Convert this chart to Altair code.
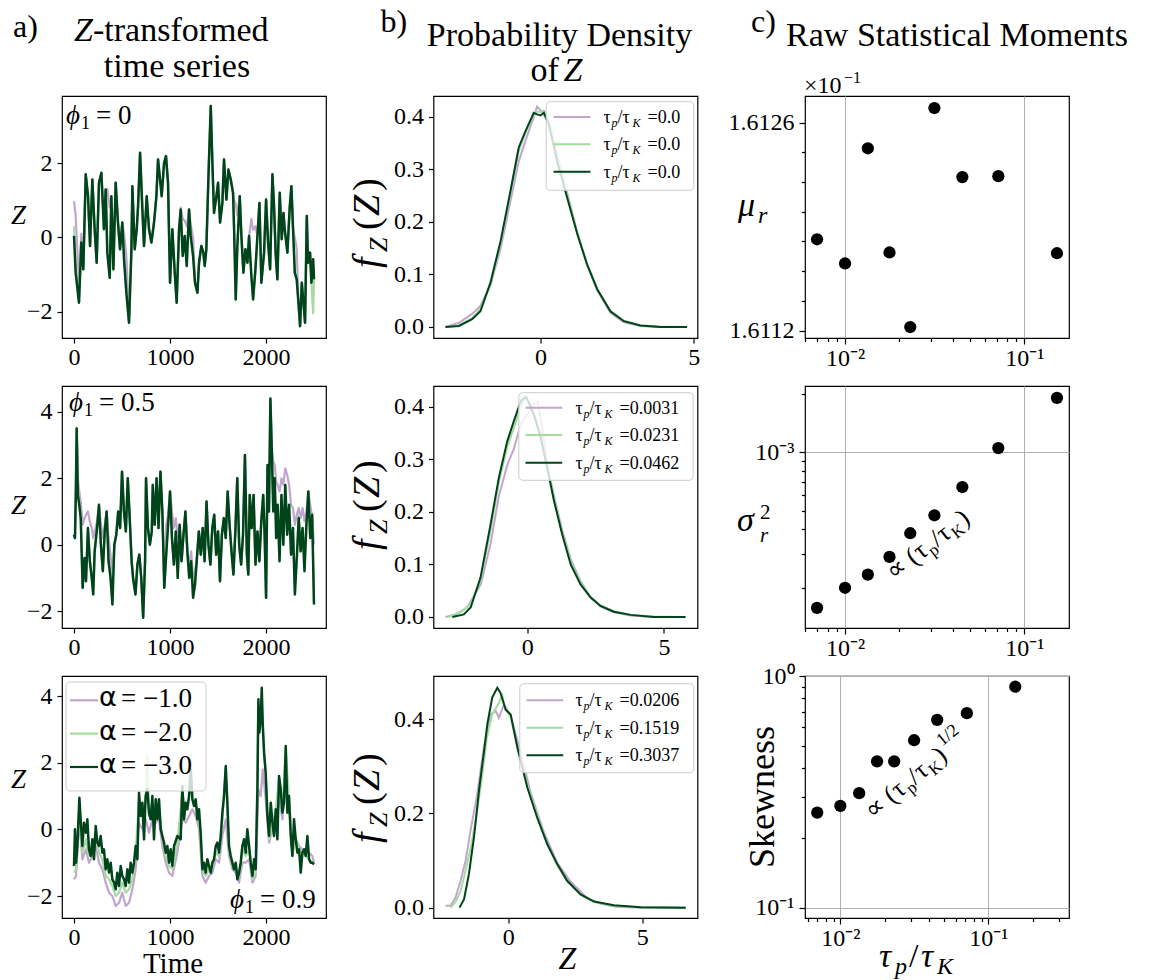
import math
import altair as alt
import pandas as pd

SERIF = "Liberation Serif"
SANS = "DejaVu Sans"
PURPLE, LGREEN, DGREEN = "#c2a5cf", "#a6dba0", "#00441b"
W, H = 264, 242

# ---------------- a) Z-transformed time series ----------------
T1 = [0,17,52,76,97,122,146,167,191,215,
      236,260,285,312,330,347,372,389,410,434,
      458,479,503,521,545,573,597,608,632,653,
      667,688,712,729,757,781,806,833,858,875,
      896,913,938,958,979,1000,1024,1049,1069,1094,
      1111,1132,1153,1174,1198,1215,1240,1260,1285,1302,
      1326,1347,1361,1378,1399,1424,1441,1458,1483,1500,
      1521,1545,1562,1587,1608,1632,1656,1667,1684,1701,
      1726,1743,1764,1785,1806,1823,1847,1865,1889,1910,
      1931,1951,1979,2000,2021,2042,2066,2083,2101,2118,
      2142,2163,2181,2194,2222,2247,2264,2281,2299,2319,
      2337,2354,2372,2389,2406,2424,2437,2458,2472,2490,
      2499]
A1_M3 = [0.04,-0.95,-1.76,-0.14,-0.86,1.70,1.11,-0.23,1.56,0.22,
         -0.68,1.47,1.74,0.22,1.29,-0.41,-1.09,1.11,-0.86,1.47,
         0.40,-0.32,0.40,-0.59,-1.49,-2.30,-0.41,1.38,-0.32,0.22,
         0.84,2.28,0.75,-0.23,1.11,0.22,-0.14,0.40,1.11,2.10,
         1.56,1.11,2.01,2.19,1.47,-1.22,0.22,-0.95,-1.76,0.22,
         0.75,-0.50,0.04,-0.77,0.75,0.04,-0.50,-1.22,-1.49,-0.68,
         -0.23,-0.41,-0.77,-0.32,1.56,3.54,2.01,0.66,1.11,1.47,
         0.40,0.93,2.10,1.02,1.83,1.56,1.20,0.22,-1.67,-0.23,
         1.11,0.04,-0.95,-0.32,-0.68,0.04,-1.04,-1.67,-0.86,0.04,
         0.93,-1.22,-0.41,1.02,-0.14,-0.86,1.70,0.84,-0.50,-1.13,
         1.20,-0.05,0.66,0.22,-0.41,0.84,1.38,0.22,-0.95,-1.13,
         -1.76,-2.39,-1.22,-1.76,-2.30,0.58,-0.68,-0.41,-1.22,-0.59,
         -1.13]
A1_M2 = [0.30,-0.70,-1.76,-0.14,-0.86,1.70,1.11,-0.23,1.56,0.22,
         -0.68,1.47,1.74,0.22,1.29,-0.41,-1.09,1.11,-0.86,1.47,
         0.40,-0.32,0.40,-0.59,-1.49,-2.30,-0.41,1.38,-0.32,0.22,
         0.84,2.28,0.75,-0.23,1.11,0.22,-0.14,0.40,1.11,2.10,
         1.56,1.11,2.01,2.19,1.47,-1.22,0.22,-0.95,-1.76,0.22,
         0.75,-0.50,0.04,-0.77,0.75,0.04,-0.50,-1.22,-1.49,-0.68,
         -0.23,-0.41,-0.77,-0.32,1.56,3.54,2.01,0.66,1.11,1.47,
         0.40,0.93,2.10,1.02,1.83,1.56,1.20,0.22,-1.67,-0.23,
         1.11,0.04,-0.95,-0.32,-0.68,0.04,-1.04,-1.67,-0.86,0.04,
         0.93,-1.22,-0.41,1.02,-0.14,-0.86,1.70,0.84,-0.50,-1.13,
         1.20,-0.05,0.66,0.22,-0.41,0.84,1.38,0.22,-0.95,-1.13,
         -1.76,-2.39,-1.22,-1.76,-2.30,0.58,-0.68,-0.41,-1.22,-2.05,
         -1.13]
A1_M1 = [0.98,0.60,-1.20,0.10,-0.86,1.70,1.11,-0.23,1.56,0.22,
         -0.68,1.47,1.74,0.22,1.29,1.30,0.80,1.11,-0.86,1.47,
         0.40,-0.32,0.40,0.10,-0.50,-2.10,-0.41,1.38,-0.32,0.22,
         0.84,2.28,0.75,-0.23,1.11,0.22,-0.14,0.40,1.11,2.10,
         1.56,1.11,2.01,2.19,1.47,-1.22,0.22,-0.95,-1.76,0.22,
         0.80,0.50,0.45,0.30,0.75,0.35,0.00,-1.22,-1.49,-0.68,
         -0.23,-0.41,-0.77,-0.32,1.56,3.54,2.01,0.66,1.11,1.47,
         0.40,0.93,2.10,1.02,1.83,1.56,1.20,1.00,0.90,0.60,
         1.11,0.04,-0.95,-0.32,-0.68,0.04,0.50,0.20,0.30,0.04,
         0.93,-1.22,-0.41,1.02,-0.14,-0.86,1.70,0.84,-0.50,-1.13,
         1.20,-0.05,0.66,0.22,-0.41,0.84,1.38,0.22,0.00,-0.30,
         -1.76,-2.39,-1.22,-1.76,-2.30,0.58,-0.68,-0.41,-1.22,-0.59,
         -1.13]

T2 = [0,10,20,28,40,55,70,90,110,125,
      145,165,185,200,215,240,260,280,300,320,
      340,360,380,400,420,440,460,480,500,520,
      540,560,580,600,615,640,660,680,700,720,
      740,750,770,790,810,820,840,860,880,900,
      920,940,960,980,1000,1020,1040,1060,1080,1100,
      1120,1140,1160,1180,1200,1220,1240,1260,1280,1300,
      1320,1340,1360,1380,1400,1420,1440,1460,1480,1500,
      1520,1540,1560,1580,1600,1620,1640,1660,1680,1700,
      1720,1740,1760,1780,1800,1815,1830,1850,1870,1890,
      1910,1930,1950,1970,1985,2000,2015,2030,2045,2060,
      2075,2090,2105,2120,2140,2160,2180,2200,2220,2240,
      2260,2280,2300,2320,2340,2360,2380,2400,2420,2440,
      2460,2480,2499]
A2_M3 = [0.3,0.2,1.7,3.5,1.5,1.2,0.8,-1.3,-0.4,-1.1,
         0.5,-0.5,-1.0,-1.5,-0.2,0.5,1.2,0.0,-0.8,0.4,
         1.0,-0.5,-1.0,-1.8,0.0,0.3,1.0,0.5,2.2,1.0,
         0.4,2.0,0.8,-0.5,-1.0,-1.5,-0.6,-0.3,-1.0,-2.2,
         -0.5,2.0,0.5,0.0,0.4,1.8,0.6,2.0,0.5,2.2,
         1.0,-1.3,-0.3,0.6,1.6,0.2,-0.6,0.4,-1.0,0.6,
         -0.5,0.3,1.0,-0.2,-1.0,-0.5,-1.6,-1.2,-0.4,0.4,
         -0.3,0.5,-0.5,1.3,0.0,-0.6,0.5,0.9,-0.3,0.4,
         -1.1,0.3,0.8,0.2,1.6,0.6,-0.2,-0.9,0.4,2.0,
         0.0,-0.6,0.3,2.7,-0.3,-0.9,1.5,0.5,1.5,-0.6,
         0.4,-0.5,0.7,1.5,0.3,-1.6,2.4,1.0,4.4,2.8,
         1.0,2.0,0.2,1.2,-0.5,1.5,0.0,1.8,0.3,1.2,
         -0.3,0.5,-1.5,-0.4,0.8,-0.2,0.5,-0.8,0.6,1.6,
         0.2,0.9,-1.8]
A2_M2 = [0.3,0.2,1.7,3.5,1.5,1.2,0.8,-1.3,-0.4,-1.1,
         0.5,-0.5,-1.0,-1.5,-0.2,0.5,1.2,0.0,-0.8,0.4,
         1.0,-0.5,-0.8,-1.4,0.0,0.3,1.0,0.5,2.2,1.0,
         0.4,2.0,0.8,-0.5,-1.0,-1.5,-0.6,-0.3,-1.0,-2.2,
         -0.5,2.0,0.5,0.0,0.4,1.8,0.6,2.0,0.5,2.2,
         1.0,-1.3,-0.3,0.6,1.6,0.2,-0.6,0.4,-1.0,0.6,
         -0.5,0.3,1.0,-0.2,-1.0,-0.5,-1.3,-1.2,-0.4,0.4,
         -0.3,0.5,-0.5,1.3,0.0,-0.6,0.5,0.9,-0.3,0.4,
         -1.1,0.3,0.8,0.2,1.6,0.6,-0.2,-0.9,0.4,2.0,
         0.0,-0.6,0.3,2.7,-0.3,-0.9,1.5,0.5,1.5,-0.6,
         0.4,-0.5,0.7,1.5,0.3,-1.6,2.4,1.0,4.4,2.8,
         1.3,2.0,0.6,1.2,-0.2,1.5,0.3,1.8,0.6,1.2,
         0.1,0.5,-1.2,-0.4,0.9,-0.2,0.5,-0.6,0.6,1.6,
         0.2,0.9,-1.8]
A2_M1 = [0.3,0.2,1.7,3.5,2.0,1.6,1.3,0.6,0.8,0.9,
         1.0,0.7,0.5,0.2,0.4,0.7,1.2,0.6,0.2,0.6,
         1.0,0.2,-0.3,-0.9,0.0,0.3,1.0,0.5,2.2,1.0,
         0.4,2.0,0.8,-0.5,-1.0,-1.5,-0.6,-0.3,-1.0,-2.2,
         -0.5,2.0,0.5,0.0,0.4,1.8,0.6,2.0,0.5,2.2,
         1.0,-1.3,0.6,0.9,1.6,1.0,0.5,0.8,0.2,0.6,
         -0.5,0.3,1.0,-0.2,-0.6,-0.2,-1.0,-0.8,-0.4,0.4,
         -0.3,0.5,-0.5,1.3,0.0,-0.6,0.5,0.9,-0.3,0.4,
         -1.1,0.3,0.8,0.2,1.6,0.6,-0.2,-0.9,0.4,2.0,
         0.0,-0.6,0.3,2.7,-0.3,-0.9,1.5,0.5,1.5,-0.6,
         0.4,-0.5,0.7,1.5,0.3,-1.6,2.4,1.0,4.3,2.9,
         2.5,2.4,1.9,1.8,1.6,2.0,1.8,2.3,2.1,1.8,
         1.2,1.1,0.6,0.9,1.1,0.8,1.1,0.7,1.0,1.6,
         1.2,0.8,0.0]

T3 = [0,10,21,35,56,69,87,104,125,139,
      156,174,191,208,226,243,260,278,295,312,
      330,347,365,382,399,417,434,451,469,486,
      503,521,538,556,573,590,608,625,642,660,
      677,694,712,729,746,764,781,799,816,833,
      851,868,885,903,920,937,955,972,990,1007,
      1024,1042,1076,1111,1128,1146,1163,1180,1198,1215,
      1233,1250,1267,1285,1302,1319,1337,1354,1371,1389,
      1406,1424,1441,1458,1476,1493,1510,1528,1545,1562,
      1580,1597,1614,1632,1649,1667,1684,1701,1719,1736,
      1753,1771,1788,1805,1823,1840,1858,1875,1892,1910,
      1920,1930,1944,1955,1965,1979,1996,2014,2031,2049,
      2066,2083,2101,2118,2135,2153,2170,2187,2205,2222,
      2239,2257,2274,2291,2309,2326,2344,2361,2378,2396,
      2413,2430,2448,2465,2482,2499]
A3_M3 = [-1.1,0.0,-1.0,-0.5,0.95,0.3,-0.5,0.2,-0.1,0.3,
         -0.6,-0.8,-0.3,-0.9,0.1,-0.4,-0.5,-0.2,-0.7,-0.6,
         -1.2,-0.9,-1.3,-1.0,-1.5,-1.6,-1.8,-1.3,-1.7,-1.1,
         -1.4,-1.5,-1.7,-1.2,-1.6,-1.0,-1.3,-1.0,-0.5,-0.9,
         1.1,0.4,0.8,-0.3,1.0,1.2,0.5,0.3,1.0,-0.3,
         0.9,0.3,0.9,0.0,-0.2,-0.4,-0.7,-0.5,-1.0,-0.6,
         -1.1,-0.5,-0.2,-0.3,1.3,0.3,0.8,0.6,1.0,1.8,
         0.9,0.7,0.9,0.3,0.6,-0.1,-1.2,-1.0,-1.3,-0.9,
         -1.1,-1.3,-1.0,-0.9,-0.5,-0.4,-0.7,-0.2,0.5,1.0,
         1.9,0.8,-0.5,-0.8,-1.0,-1.2,-1.0,-1.5,-1.3,-1.0,
         -0.5,-0.3,-0.7,0.0,-0.5,-1.0,-1.4,-0.9,-1.2,1.2,
         3.9,2.9,3.3,4.25,3.2,2.3,1.7,0.4,-0.2,0.8,
         0.2,-0.2,0.6,-0.3,1.6,1.2,0.5,0.8,2.5,0.5,
         1.0,-0.2,-0.8,0.3,-0.3,-0.7,-0.6,-1.3,-0.7,-0.6,
         -0.8,-0.2,-0.9,-1.0,-1.0,-1.05]
T3L = [0,21,56,87,125,156,191,226,260,295,
       330,365,399,434,469,503,538,573,608,642,
       677,712,746,764,781,816,851,885,920,955,
       990,1024,1076,1128,1163,1198,1215,1233,1267,1302,
       1337,1371,1406,1441,1476,1510,1545,1580,1614,1649,
       1684,1719,1753,1788,1823,1858,1892,1920,1944,1955,
       1965,1996,2031,2066,2101,2135,2170,2205,2239,2274,
       2309,2344,2378,2413,2448,2482,2499]
A3_M2 = [-1.3,-1.2,0.7,-0.7,-0.3,-0.8,-0.5,-0.1,-0.7,-0.9,
         -1.4,-1.5,-1.7,-2.0,-1.9,-1.6,-1.9,-1.8,-1.5,-0.7,
         0.9,0.6,0.8,2.25,0.4,0.8,0.7,0.7,-0.3,-0.8,
         -1.1,-1.2,-0.4,1.1,0.6,0.9,2.2,0.9,0.8,0.4,
         -1.2,-1.4,-1.2,-1.1,-0.7,-0.8,0.3,1.8,-0.6,-1.1,
         -1.1,-1.4,-0.6,-0.8,-0.6,-1.5,-1.3,3.7,3.1,4.0,
         3.0,1.6,-0.3,0.1,0.6,1.5,0.5,2.4,0.9,-0.8,
         -0.3,-0.6,-0.7,-0.8,-0.9,-1.0,-1.05]
T3P = [0,21,56,87,125,156,191,226,260,295,
       330,365,399,434,469,503,538,573,608,642,
       677,712,746,781,816,851,885,920,955,990,
       1024,1076,1128,1163,1198,1233,1267,1302,1337,1371,
       1406,1441,1476,1510,1545,1580,1614,1649,1684,1719,
       1753,1788,1823,1858,1892,1920,1944,1965,1996,2031,
       2066,2101,2135,2170,2205,2239,2274,2309,2344,2378,
       2413,2448,2482,2499]
A3_M1 = [-1.5,-1.4,0.3,-0.9,-0.6,-1.0,-0.8,-0.5,-1.0,-1.2,
         -1.6,-1.9,-2.0,-2.3,-2.2,-1.9,-2.3,-2.2,-1.8,-1.2,
         0.2,0.0,0.3,-0.1,0.3,0.2,0.3,-0.5,-1.0,-1.3,
         -1.4,-0.7,0.3,0.2,0.4,0.6,0.4,0.0,-1.4,-1.6,
         -1.4,-1.3,-0.9,-1.0,-0.2,0.3,-0.8,-1.2,-1.3,-1.6,
         -1.0,-1.0,-0.9,-1.6,-1.4,1.2,1.0,1.8,0.9,-0.4,
         0.0,0.3,1.0,0.3,1.6,0.7,-0.6,-0.3,-0.5,-0.6,
         -0.6,-0.7,-0.8,-1.0]

# ---------------- b) probability densities ----------------
B1_Z = [-3.1,-2.66,-2.23,-1.96,-1.63,-1.3,-0.98,-0.71,-0.49,-0.22,-0.11,0.0,0.11,0.27,0.54,0.87,1.2,1.52,1.85,2.28,2.72,3.26,3.91,4.78]
B1_G = [0,0.002,0.015,0.03,0.085,0.164,0.259,0.342,0.373,0.408,0.405,0.403,0.408,0.386,0.316,0.246,0.177,0.119,0.072,0.030,0.011,0.003,0.0,0.0]
B1_L = [0,0.003,0.017,0.035,0.08,0.16,0.255,0.335,0.37,0.405,0.41,0.41,0.412,0.395,0.325,0.25,0.178,0.12,0.072,0.03,0.012,0.003,0.001,0.0]
B1_P = [0,0.008,0.025,0.04,0.08,0.15,0.24,0.315,0.355,0.40,0.42,0.412,0.405,0.39,0.33,0.255,0.18,0.118,0.07,0.027,0.009,0.002,0.0,0.0]

B2_GZ = [-2.74,-2.32,-2.07,-1.71,-1.34,-1.04,-0.73,-0.49,-0.24,-0.05,0.0,0.24,0.49,0.73,0.98,1.28,1.59,1.95,2.32,2.68,3.17,3.78,4.63,5.79]
B2_G = [0,0.005,0.018,0.075,0.177,0.265,0.335,0.373,0.411,0.419,0.415,0.386,0.342,0.284,0.221,0.157,0.100,0.062,0.037,0.021,0.010,0.004,0.0,0.0]
B2_LZ = [-2.87,-2.4,-2.07,-1.71,-1.34,-1.04,-0.73,-0.49,-0.24,-0.1,0.05,0.24,0.49,0.73,0.98,1.28,1.59,1.95,2.32,2.68,3.17,3.78,4.63,5.79]
B2_L = [0,0.01,0.025,0.07,0.165,0.255,0.325,0.36,0.40,0.42,0.41,0.39,0.35,0.29,0.225,0.16,0.105,0.065,0.038,0.022,0.011,0.004,0.001,0.0]
B2_PZ = [-2.99,-2.6,-2.2,-1.7,-1.34,-1.04,-0.73,-0.49,-0.24,0.05,0.2,0.37,0.55,0.73,0.98,1.28,1.59,1.95,2.32,2.68,3.17,3.78,4.63,5.79]
B2_P = [0,0.005,0.018,0.062,0.14,0.23,0.29,0.32,0.367,0.39,0.405,0.41,0.36,0.29,0.23,0.165,0.11,0.068,0.038,0.02,0.009,0.003,0.0,0.0]

B3_GZ = [-1.82,-1.65,-1.47,-1.28,-1.09,-0.91,-0.78,-0.6,-0.41,-0.29,-0.1,0.09,0.34,0.71,1.08,1.46,1.83,2.2,2.7,3.2,3.94,4.94,6.62]
B3_G = [0,0.018,0.071,0.149,0.25,0.33,0.39,0.446,0.467,0.456,0.421,0.41,0.34,0.255,0.191,0.134,0.092,0.057,0.028,0.013,0.005,0.001,0.0]
B3_LZ = [-2.15,-1.97,-1.78,-1.59,-1.4,-1.2,-1.0,-0.8,-0.6,-0.4,-0.22,-0.1,0.09,0.34,0.71,1.08,1.46,1.83,2.2,2.7,3.2,3.94,4.94,6.62]
B3_L = [0,0.012,0.035,0.08,0.127,0.19,0.27,0.36,0.41,0.43,0.45,0.42,0.405,0.34,0.26,0.195,0.135,0.09,0.056,0.027,0.012,0.004,0.001,0.0]
B3_PZ = [-2.34,-2.15,-1.97,-1.78,-1.59,-1.41,-1.16,-0.91,-0.66,-0.47,-0.35,-0.16,0.09,0.46,0.83,1.33,1.83,2.33,2.95,3.45,4.0,5.0,6.62]
B3_P = [0.004,0.004,0.021,0.057,0.10,0.163,0.24,0.34,0.41,0.418,0.403,0.432,0.407,0.33,0.245,0.16,0.095,0.055,0.02,0.008,0.002,0.0,0.0]

LEG_B = [["=0.0", "=0.0", "=0.0"],
         ["=0.0031", "=0.0231", "=0.0462"],
         ["=0.0206", "=0.1519", "=0.3037"]]

# ---------------- c) raw statistical moments ----------------
TAU = [0.00698, 0.0100, 0.0134, 0.0177, 0.0231, 0.0315, 0.0451, 0.0716, 0.152]
MU = [1.611815, 1.611652, 1.612428, 1.611726, 1.611224, 1.612699, 1.612234, 1.612240, 1.611721]
VAR = [1.576e-4, 2.0e-4, 2.339e-4, 2.886e-4, 3.824e-4, 4.734e-4, 6.624e-4, 1.052e-3, 1.911e-3]
SKEW = [0.2573, 0.2751, 0.312, 0.428, 0.428, 0.528, 0.6465, 0.691, 0.899]

ONE = pd.DataFrame({"k": [0]})


def T(s, x, y, size, italic=False, angle=0, align="left", baseline="alphabetic", font=SERIF):
    return alt.Chart(ONE).mark_text(
        text=s, font=font, fontSize=size, fontStyle="italic" if italic else "normal",
        angle=angle, align=align, baseline=baseline, color="black"
    ).encode(x=alt.value(x), y=alt.value(y))


def rich(pieces, x0, y0, angle=0):
    """pieces: (text, offset along the text, offset below the baseline, size, italic)"""
    th = math.radians(angle)
    dx, dy = math.cos(th), math.sin(th)
    px, py = -math.sin(th), math.cos(th)
    out = []
    for p in pieces:
        s, a, q, size = p[:4]
        it = p[4] if len(p) > 4 else False
        font = p[5] if len(p) > 5 else SERIF
        out.append(T(s, round(x0 + a * dx + q * px, 2), round(y0 + a * dy + q * py, 2),
                     size, it, angle=angle, font=font))
    return out


def box(x1, x2, y1, y2):
    return alt.Chart(ONE).mark_rect(fill="white", fillOpacity=0.8, stroke="#cccccc",
                                    strokeWidth=1, cornerRadius=4).encode(
        x=alt.value(x1), x2=alt.value(x2), y=alt.value(y1), y2=alt.value(y2))


def hline(x1, x2, y, color, sw):
    return alt.Chart(ONE).mark_rule(color=color, strokeWidth=sw).encode(
        x=alt.value(x1), x2=alt.value(x2), y=alt.value(y))


def lin(dom):
    return alt.Scale(domain=dom, nice=False, zero=False)


def ts_panel(series, ydom, yvals, extras):
    xa = alt.Axis(values=[0, 1000, 2000], format="d", title=None)
    ya = alt.Axis(values=yvals, format="d", title=None)
    layers = []
    for tt, zz, col, sw in series:
        df = pd.DataFrame({"t": tt, "z": zz})
        layers.append(alt.Chart(df).mark_line(color=col, strokeWidth=sw, strokeJoin="round").encode(
            x=alt.X("t:Q", scale=lin([-125, 2624]), axis=xa),
            y=alt.Y("z:Q", scale=lin(ydom), axis=ya)))
    return alt.layer(*layers, *extras).properties(width=W, height=H)


def pdf_panel(series, xdom, ydom, yvals, extras):
    xa = alt.Axis(values=[0, 5], format="d", title=None)
    ya = alt.Axis(values=yvals, format=".1f", title=None)
    layers = []
    for zz, ff, col in series:
        df = pd.DataFrame({"zv": zz, "f": ff})
        layers.append(alt.Chart(df).mark_line(color=col, strokeWidth=2).encode(
            x=alt.X("zv:Q", scale=lin(xdom), axis=xa),
            y=alt.Y("f:Q", scale=lin(ydom), axis=ya)))
    return alt.layer(*layers, *extras).properties(width=W, height=H)


MAJ = "abs(log(datum.value)/LN10 - round(log(datum.value)/LN10)) < 0.001"


def cond(test, a, b):
    return {"condition": {"test": test, "value": a}, "value": b}


XT12 = [0.006, 0.007, 0.008, 0.009, 0.01, 0.02, 0.03, 0.04, 0.05, 0.06, 0.07, 0.08, 0.09, 0.1]
XT3 = XT12 + [0.2, 0.3]
XLAB = "datum.value == 0.01 ? '10⁻²' : datum.value == 0.1 ? '10⁻¹' : ''"


def xlog_axis(vals):
    return alt.Axis(values=vals, labelExpr=XLAB, title=None, grid=True,
                    gridOpacity=cond(MAJ, 1, 0), tickSize=cond(MAJ, 6, 3.5))


def mom_panel(yvals, xdom, xvals, yscale, yaxis, extras):
    df = pd.DataFrame({"tau": TAU, "m": yvals})
    pts = alt.Chart(df).mark_circle(size=150, color="black", opacity=1).encode(
        x=alt.X("tau:Q", scale=alt.Scale(type="log", domain=xdom, nice=False), axis=xlog_axis(xvals)),
        y=alt.Y("m:Q", scale=yscale, axis=yaxis))
    return alt.layer(pts, *extras).properties(width=W, height=H)


def leg_b(labels, bx1, bx2, by1, by2, lx1, lx2, ly, tx):
    out = [box(bx1, bx2, by1, by2)]
    for i, (lab, col) in enumerate(zip(labels, [PURPLE, LGREEN, DGREEN])):
        y = ly[i]
        out.append(hline(lx1, lx2, y, col, 2))
        out += rich([("τ", 0, 0, 18), ("p", 8, 4, 12, True), ("/τ", 14, 0, 18),
                     ("K", 29, 4, 12, True), (lab, 44, 0, 18)], tx, y + 6)
    return out


def fz_label(y0):
    return rich([("f", 0, 0, 38, True), ("Z", 16, 8, 26, True), ("(", 38, 0, 38),
                  ("Z", 52, 0, 38, True), (")", 77, 0, 38)], -55, y0, angle=270)


def phi(x, y, val):
    return rich([("ϕ", 0, 0, 27, True), ("1", 15, 5, 18), ("= " + val, 30, 0, 27)], x, y)


def propto(x0, y0, angle, half=False):
    p = [("∝", 0, 0, 26), ("(", 25, 0, 26), ("τ", 34, 0, 26), ("p", 46, 5, 17),
         ("/", 55, 0, 26), ("τ", 63, 0, 26), ("K", 75, 5, 17), (")", 89, 0, 26)]
    if half:
        p.append(("1/2", 100, -13, 18))
    return rich(p, x0, y0, angle)


# ---- column a panels
ghost = alt.Chart(ONE).mark_rule(opacity=0).encode(
    x=alt.value(-61), x2=alt.value(-60), y=alt.value(-95), y2=alt.value(-95))

a1_extra = [ghost] + phi(4, 28, "0") + [T("Z", -51, 128, 27, True),
            T("a)", -49, -59, 32), T("Z", 12, -55, 34, True), T("-transformed", 31, -55, 34),
            T("time series", 115, -19, 34, align="center")]
a1 = ts_panel([(T1, A1_M1, PURPLE, 2.2), (T1, A1_M2, LGREEN, 2.2), (T1, A1_M3, DGREEN, 2.5)],
              [-2.71, 3.81], [-2, 0, 2], a1_extra)

a2_extra = phi(7, 25, "0.5") + [T("Z", -51, 128, 27, True)]
a2 = ts_panel([(T2, A2_M1, PURPLE, 2.2), (T2, A2_M2, LGREEN, 2.2), (T2, A2_M3, DGREEN, 2.5)],
              [-2.51, 4.78], [-2, 0, 2, 4], a2_extra)

a3_extra = phi(168, 232, "0.9") + [T("Z", -51, 112, 27, True), T("Time", 111, 297, 29, align="center"),
                                   box(4, 144, 6, 115)]
for i, (lab, col) in enumerate(zip(["= −1.0", "= −2.0", "= −3.0"], [PURPLE, LGREEN, DGREEN])):
    yy = [24.3, 57.6, 91][i]
    a3_extra += [hline(8, 36, yy, col, 2.2), T("α", 37, yy + 6, 27, font=SANS), T(lab, 59, yy + 7, 27)]
a3 = ts_panel([(T3P, A3_M1, PURPLE, 2.2), (T3L, A3_M2, LGREEN, 2.2), (T3, A3_M3, DGREEN, 2.5)],
              [-2.66, 4.6], [-2, 0, 2, 4], a3_extra)

# ---- column b panels
b1_extra = fz_label(172) + [T("b)", -53, -64, 32), T("Probability Density", 126, -50, 34, align="center"),
                            T("of", 97, -15, 34), T("Z", 130, -15, 34, True)] + \
    leg_b(LEG_B[0], 112.7, 260.3, 5.7, 94.3, 120, 157, [21, 48.3, 75.7], 170)
b1 = pdf_panel([(B1_Z, B1_P, PURPLE), (B1_Z, B1_L, LGREEN), (B1_Z, B1_G, DGREEN)],
               [-3.49, 5.12], [-0.021, 0.44], [0.0, 0.1, 0.2, 0.3, 0.4], b1_extra)

b2_extra = fz_label(164) + leg_b(LEG_B[1], 85.3, 259.7, 6.7, 94.3, 92, 128.7, [21.7, 49, 76.7], 142)
b2 = pdf_panel([(B2_PZ, B2_P, PURPLE), (B2_LZ, B2_L, LGREEN), (B2_GZ, B2_G, DGREEN)],
               [-3.43, 6.23], [-0.021, 0.44], [0.0, 0.1, 0.2, 0.3, 0.4], b2_extra)

b3_extra = fz_label(167) + [T("Z", 134, 293, 32, True, align="center")] + \
    leg_b(LEG_B[2], 86.3, 260.3, 7.7, 96.7, 93, 129.7, [24.3, 51.7, 79.3], 142)
b3 = pdf_panel([(B3_PZ, B3_P, PURPLE), (B3_LZ, B3_L, LGREEN), (B3_GZ, B3_G, DGREEN)],
               [-2.79, 7.06], [-0.022, 0.492], [0.0, 0.2, 0.4], b3_extra)

# ---- column c panels
MU_T = [1.6112, 1.6114, 1.6116, 1.6118, 1.612, 1.6122, 1.6124, 1.6126]
MU_END = "datum.value == 1.6112 || datum.value == 1.6126"
mu_axis = alt.Axis(values=MU_T, title=None, grid=False, tickSize=cond(MU_END, 6, 3.5),
                   labelExpr="(" + MU_END + ") ? format(datum.value, '.4f') : ''")
c1_extra = [T("×10", -1, -3, 24), T("−1", 39, -13, 16), T("c)", -54, -64, 32),
            T("Raw Statistical Moments", 152, -50, 34, align="center"),
            T("μ", -67, 120, 34, True), T("r", -47, 127, 24, True)]
c1 = mom_panel(MU, [0.00598, 0.1774], XT12, lin([1.61115, 1.61278]), mu_axis, c1_extra)

VAR_T = [2e-4, 3e-4, 4e-4, 5e-4, 6e-4, 7e-4, 8e-4, 9e-4, 1e-3, 2e-3]
var_axis = alt.Axis(values=VAR_T, title=None, grid=True, gridOpacity=cond(MAJ, 1, 0),
                    tickSize=cond(MAJ, 6, 3.5), labelExpr="datum.value == 0.001 ? '10⁻³' : ''")
c2_extra = [T("σ", -68, 145, 34, True), T("2", -45, 133, 21), T("r", -45, 156, 21, True)] + \
    propto(89, 195, 322.5)
c2 = mom_panel(VAR, [0.00598, 0.1774], XT12,
               alt.Scale(type="log", domain=[1.24e-4, 2.2e-3], nice=False), var_axis, c2_extra)

SK_T = [0.1, 0.2, 0.3, 0.4, 0.5, 0.6, 0.7, 0.8, 0.9, 1.0]
sk_axis = alt.Axis(values=SK_T, title=None, grid=True, gridOpacity=cond(MAJ, 1, 0),
                   tickSize=cond(MAJ, 6, 3.5),
                   labelExpr="datum.value == 0.1 ? '10⁻¹' : datum.value == 1 ? '10⁰' : ''")
c3_extra = [T("Skewness", -31, 121, 36, angle=270, align="center")] + propto(68, 144, 320.7, half=True) + \
    rich([("τ", 0, 0, 34, True), ("p", 16, 7, 24, True), ("/", 30, 0, 34),
          ("τ", 42, 0, 34, True), ("K", 58, 7, 24, True)], 74, 291)
c3 = mom_panel(SKEW, [0.00577, 0.3507], XT3,
               alt.Scale(type="log", domain=[0.0902, 1.0], nice=False), sk_axis, c3_extra)

chart = alt.concat(
    a1, b1, c1, a2, b2, c2, a3, b3, c3,
    columns=3, spacing={"row": 48, "column": 107.5}, bounds="flush"
).resolve_scale(
    x="independent", y="independent"
).properties(
    padding={"left": 0, "top": 0, "right": 5, "bottom": 5}
).configure_view(
    stroke="black", strokeWidth=1.2
).configure_axis(
    domain=False, ticks=True, tickColor="black", tickWidth=1.2, tickSize=5,
    labelFont=SERIF, labelFontSize=24, labelColor="black", labelFlush=False,
    grid=False, gridColor="#b0b0b0", gridWidth=1
).configure_axisX(labelPadding=2).configure_axisY(labelPadding=5)

chart.save("out.html", embed_options={"renderer": "svg", "actions": False})
